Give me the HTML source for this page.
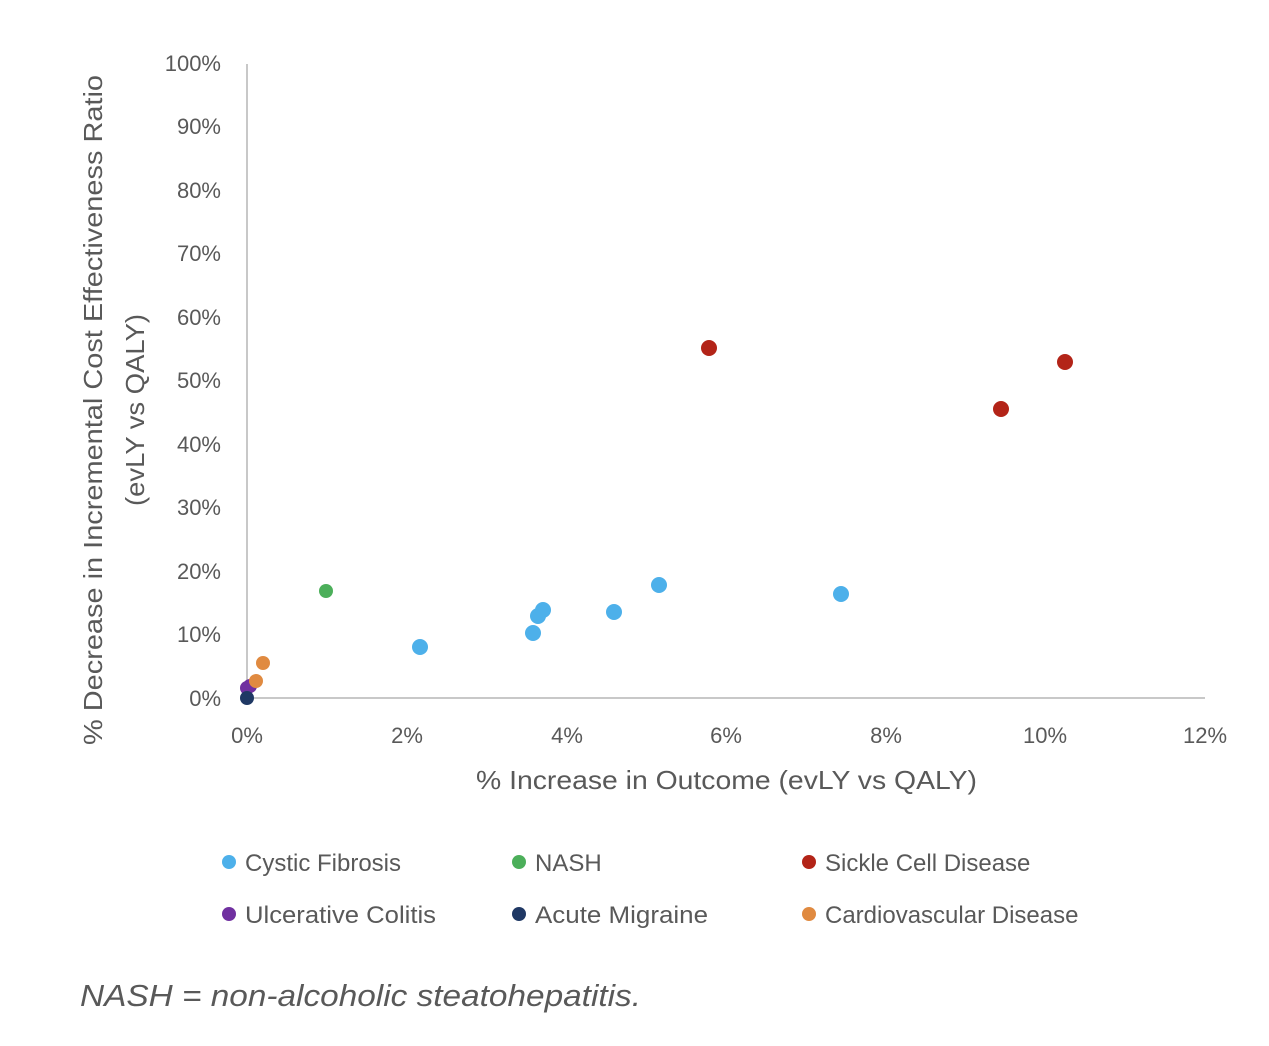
<!DOCTYPE html>
<html><head><meta charset="utf-8"><style>
html,body{margin:0;padding:0;background:#fff;width:1269px;height:1046px;overflow:hidden}
svg text{font-family:"Liberation Sans",sans-serif;fill:#595959}
</style></head><body>
<svg width="1269" height="1046" xmlns="http://www.w3.org/2000/svg">
<line x1="247" y1="64" x2="247" y2="698" stroke="#c8c8c8" stroke-width="2"/>
<line x1="247" y1="698" x2="1205" y2="698" stroke="#c8c8c8" stroke-width="2"/>
<g font-size="22" text-anchor="end">
<text x="221" y="71">100%</text><text x="221" y="134">90%</text><text x="221" y="198">80%</text>
<text x="221" y="261">70%</text><text x="221" y="325">60%</text><text x="221" y="388">50%</text>
<text x="221" y="452">40%</text><text x="221" y="515">30%</text><text x="221" y="579">20%</text>
<text x="221" y="642">10%</text><text x="221" y="706">0%</text>
</g>
<g font-size="22" text-anchor="middle">
<text x="247" y="743">0%</text><text x="407" y="743">2%</text><text x="567" y="743">4%</text>
<text x="726" y="743">6%</text><text x="886" y="743">8%</text><text x="1045" y="743">10%</text><text x="1205" y="743">12%</text>
</g>
<text x="476" y="789" font-size="26" textLength="501" lengthAdjust="spacingAndGlyphs">% Increase in Outcome (evLY vs QALY)</text>
<g transform="translate(102,410) rotate(-90)" font-size="26" text-anchor="middle">
<text x="0" y="0" textLength="670" lengthAdjust="spacingAndGlyphs">% Decrease in Incremental Cost Effectiveness Ratio</text>
<text x="0" y="42" textLength="192" lengthAdjust="spacingAndGlyphs">(evLY vs QALY)</text>
</g>
<g fill="#4DB0EA">
<circle cx="420" cy="647" r="8"/><circle cx="533" cy="633" r="8"/><circle cx="538" cy="616" r="8"/>
<circle cx="543" cy="610" r="8"/><circle cx="614" cy="612" r="8"/><circle cx="659" cy="585" r="8"/><circle cx="841" cy="594" r="8"/>
</g>
<circle cx="326" cy="591" r="7" fill="#4CAF5A"/>
<g fill="#B32418"><circle cx="709" cy="348" r="8"/><circle cx="1001" cy="409" r="8"/><circle cx="1065" cy="362" r="8"/></g>
<circle cx="250" cy="686" r="7" fill="#7030A0"/><circle cx="247" cy="688" r="7" fill="#7030A0"/>
<circle cx="247" cy="698" r="7" fill="#1F3864"/>
<circle cx="256" cy="681" r="7" fill="#E08A40"/><circle cx="263" cy="663" r="7" fill="#E08A40"/>
<g font-size="24">
<circle cx="229" cy="862" r="7" fill="#4DB0EA"/><text x="245" y="871">Cystic Fibrosis</text>
<circle cx="519" cy="862" r="7" fill="#4CAF5A"/><text x="535" y="871">NASH</text>
<circle cx="809" cy="862" r="7" fill="#B32418"/><text x="825" y="871">Sickle Cell Disease</text>
<circle cx="229" cy="914" r="7" fill="#7030A0"/><text x="245" y="923" textLength="191" lengthAdjust="spacingAndGlyphs">Ulcerative Colitis</text>
<circle cx="519" cy="914" r="7" fill="#1F3864"/><text x="535" y="923" textLength="173" lengthAdjust="spacingAndGlyphs">Acute Migraine</text>
<circle cx="809" cy="914" r="7" fill="#E08A40"/><text x="825" y="923">Cardiovascular Disease</text>
</g>
<text x="80" y="1006" font-size="31" font-style="italic" textLength="561" lengthAdjust="spacingAndGlyphs">NASH = non-alcoholic steatohepatitis.</text>
</svg>
</body></html>
